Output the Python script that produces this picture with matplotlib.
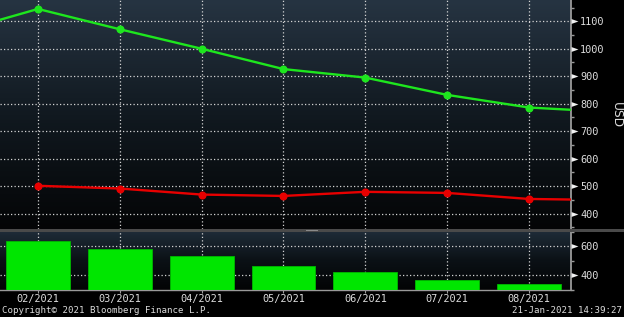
import numpy as np
import matplotlib
matplotlib.use("Agg")
import matplotlib.pyplot as plt
from matplotlib.colors import LinearSegmentedColormap
from matplotlib.path import Path
from matplotlib.patches import Rectangle
import matplotlib.transforms as mtrans

# ---- data ----
months = ['01/2021', '02/2021', '03/2021', '04/2021', '05/2021',
          '06/2021', '07/2021', '08/2021', '09/2021']
green_vals = [1060, 1145, 1071, 1000, 926, 895, 832, 786, 770]
red_vals = [np.nan, 501, 491, 469, 464, 479, 475, 453, 449]
bar_months = ['02/2021', '03/2021', '04/2021', '05/2021', '06/2021', '07/2021', '08/2021']
spread_vals = [637, 577, 529, 460, 421, 364, 337]
top_ticks = [400, 500, 600, 700, 800, 900, 1000, 1100]
bot_ticks = [400, 600]

W, H = 624, 317
fig = plt.figure(figsize=(W / 100, H / 100), dpi=100, facecolor='black')

x_right = 571
ax = fig.add_axes([0, 1 - 229 / H, x_right / W, 229 / H])
ax2 = fig.add_axes([0, 1 - 289.5 / H, x_right / W, (289.5 - 231.5) / H])

x = np.arange(len(months))
xpos = {m: i for i, m in enumerate(months)}
xlim = (1 - 0.464, 1 + 6.513)

grid_col = '#d4d4d4'
txt_col = '#dcdcdc'
spine_col = '#9a9a9a'


def gradient(a, colors):
    cmap = LinearSegmentedColormap.from_list('g', colors)
    g = np.linspace(0, 1, 256).reshape(-1, 1)
    a.imshow(g, cmap=cmap, aspect='auto', extent=[0, 1, 0, 1],
             transform=a.transAxes, zorder=0, interpolation='bilinear')


for a in (ax, ax2):
    a.set_facecolor('black')

gradient(ax, ['#263442', '#111920', '#040506'])
gradient(ax2, ['#1f2c38', '#0b1116', '#030405'])

# ---- top panel lines ----
mk = list(range(1, 8))
ax.plot(x, green_vals, color='#1ee61e', lw=1.7, marker='o', ms=4.8,
        markevery=mk, zorder=4, clip_on=True)
ax.plot(x, red_vals, color='#e80000', lw=1.7, marker='o', ms=4.8,
        markevery=mk, zorder=4, clip_on=True)

ax.set_xlim(*xlim)
ax.set_ylim(343.6, 1177.6)

# ---- bottom panel bars ----
bx = [xpos[m] for m in bar_months]
ax2.bar(bx, spread_vals, width=0.78, color='#00e600', edgecolor='#00b800',
        linewidth=0.6, zorder=3)
ax2.set_xlim(*xlim)
ax2.set_ylim(311, 674)

# ---- grids ----
dash = (0, (1, 1.8))
for a in (ax, ax2):
    a.grid(True, which='major', color=grid_col, lw=0.9, linestyle=dash, zorder=1)
    a.set_axisbelow(True)
    a.yaxis.tick_right()
    for s in ('top', 'left'):
        a.spines[s].set_visible(False)
    a.spines['right'].set_color(spine_col)
    a.spines['right'].set_linewidth(1.3)

ax.spines['bottom'].set_visible(False)
ax2.spines['bottom'].set_color(spine_col)
ax2.spines['bottom'].set_linewidth(1.0)

ax.set_xticks(range(1, 8))
ax.tick_params(axis='x', length=0, labelbottom=False)
ax2.set_xticks(bx)
ax2.set_xticklabels(bar_months)
ax2.tick_params(axis='x', length=2, color=spine_col, colors=txt_col, labelsize=7.4, pad=1.5)
for lbl in ax2.get_xticklabels():
    lbl.set_family('DejaVu Sans Mono')

ax.set_yticks(top_ticks)
ax.set_yticks([v + 50 for v in [300] + top_ticks], minor=True)
ax2.set_yticks(bot_ticks)
ax2.set_yticks([300, 500, 700], minor=True)

for a in (ax, ax2):
    a.tick_params(axis='y', which='major', length=0, pad=6.5, labelsize=7.4,
                  colors=txt_col)
    a.tick_params(axis='y', which='minor', length=2.5, width=1, color=spine_col)
    for lbl in a.get_yticklabels():
        lbl.set_family('DejaVu Sans Mono')

# triangle tick marks on the right axis
tri = Path([(0, -0.35), (0, 0.35), (1, 0), (0, -0.35)],
           [Path.MOVETO, Path.LINETO, Path.LINETO, Path.CLOSEPOLY])
for a, ticks in ((ax, top_ticks), (ax2, bot_ticks)):
    tr = mtrans.blended_transform_factory(a.transAxes, a.transData)
    a.plot([1.0] * len(ticks), ticks, linestyle='none', marker=tri, ms=10,
           color='#f0f0f0', mec='none', transform=tr, clip_on=False, zorder=6)

fig.text(616 / W, 1 - 115 / H, 'USD', color=txt_col, fontsize=8.8, rotation=270,
         family='DejaVu Sans', ha='center', va='center')

# divider between panels
fig.patches.append(Rectangle((0, 1 - 231.5 / H), 1, 2.5 / H, transform=fig.transFigure,
                             facecolor='#4a4a4a', edgecolor='none', zorder=10))
fig.patches.append(Rectangle((306 / W, 1 - 231 / H), 12 / W, 1.5 / H, transform=fig.transFigure,
                             facecolor='#8a8a8a', edgecolor='none', zorder=11))

# footer
fig.text(2 / W, 1 - 310.5 / H, 'Copyright\u00a9 2021 Bloomberg Finance L.P.',
         color=txt_col, fontsize=6.55, family='DejaVu Sans Mono', va='center', ha='left')
fig.text(621.5 / W, 1 - 310.5 / H, '21-Jan-2021 14:39:27',
         color=txt_col, fontsize=6.6, family='DejaVu Sans Mono', va='center', ha='right')

fig.savefig('out.png', dpi=100, facecolor='black')
